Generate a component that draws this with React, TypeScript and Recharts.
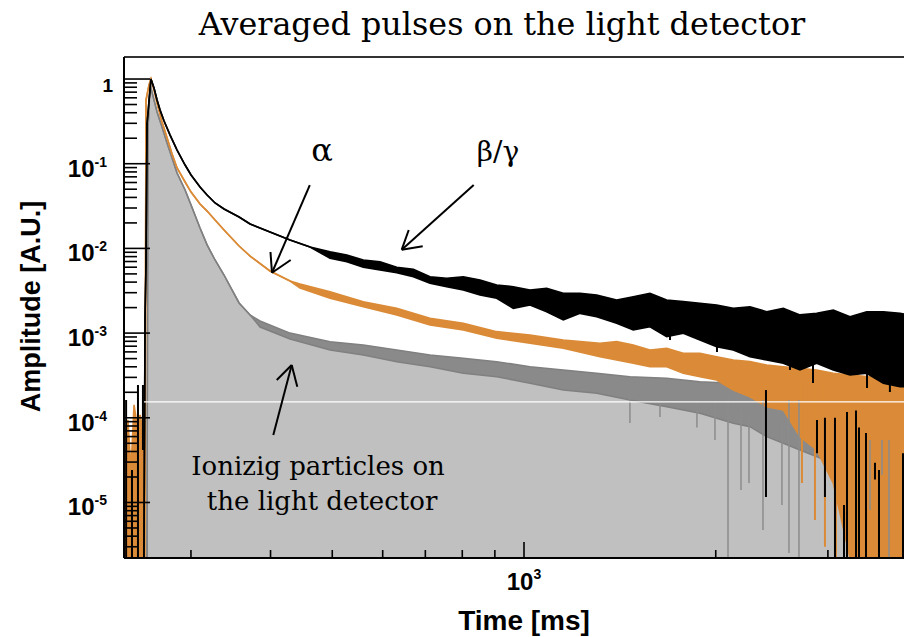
import React from "react";
import {
  ComposedChart,
  Area,
  Line,
  XAxis,
  YAxis,
  ReferenceLine,
  ReferenceDot,
} from "recharts";

const X_MIN = 235.5;
const X_MAX = 3950;
const Y_MIN = 2.21e-6;
const Y_MAX = 1.82;
const FLOOR = Y_MIN;

// beta/gamma pulse (black): upper and lower edge of the noisy trace
const blackTime = [253.1, 254.1, 255.0, 255.9, 259.6, 262.5, 265.4, 268.3, 272.2, 278.2, 285.3, 293.7, 300.1, 310.0, 318.0, 327.3, 338.1, 357.0, 371.5, 399.2, 429.2, 461.4, 496.0, 527.0, 559.4, 594.2, 631.2, 670.3, 711.9, 756.1, 803.0, 852.9, 906.1, 962.0, 1021.9, 1085.4, 1152.7, 1224.5, 1300.5, 1398.0, 1484.4, 1576.8, 1674.9, 1778.5, 1889.0, 2006.5, 2131.0, 2263.5, 2404.4, 2553.1, 2711.9, 2880.7, 3059.1, 3249.6, 3451.5, 3665.6, 3893.5, 3950];
const blackHigh = [FLOOR, 0.0015, 0.0067, 0.29, 1.0, 0.783, 0.565, 0.431, 0.319, 0.218, 0.145, 0.0965, 0.0736, 0.0531, 0.0427, 0.0344, 0.0292, 0.0235, 0.0194, 0.0156, 0.0126, 0.0104, 0.00914, 0.00836, 0.0073, 0.00697, 0.00598, 0.00567, 0.00463, 0.00444, 0.00463, 0.00424, 0.0037, 0.00353, 0.00323, 0.00338, 0.00295, 0.00295, 0.00282, 0.00246, 0.00269, 0.00295, 0.00246, 0.00235, 0.00225, 0.00215, 0.00196, 0.00205, 0.00179, 0.00196, 0.00164, 0.00171, 0.00187, 0.00156, 0.00179, 0.00179, 0.00171, 0.00168];
const blackLow = [FLOOR, 0.0015, 0.0067, 0.29, 1.0, 0.783, 0.565, 0.431, 0.319, 0.218, 0.145, 0.0965, 0.0736, 0.0531, 0.0427, 0.0344, 0.0292, 0.0235, 0.0194, 0.0156, 0.0126, 0.0104, 0.00764, 0.00697, 0.00598, 0.00556, 0.00516, 0.00463, 0.00387, 0.00353, 0.00323, 0.00282, 0.00258, 0.00196, 0.00215, 0.00179, 0.00143, 0.00171, 0.00156, 0.00131, 0.00109, 0.00119, 0.000907, 0.000995, 0.000829, 0.000691, 0.000632, 0.000526, 0.000481, 0.00044, 0.000367, 0.00044, 0.000367, 0.00032, 0.000335, 0.000256, 0.000233, 0.000233];

// alpha pulse (orange)
const orangeTime = [235.5, 238.9, 241.5, 244.2, 246.9, 249.6, 252.2, 254.1, 255.0, 257.8, 259.6, 262.5, 265.4, 270.2, 275.2, 280.2, 285.3, 293.7, 300.1, 310.0, 318.0, 327.3, 338.1, 357.0, 371.5, 399.2, 429.2, 445.0, 496.0, 559.4, 631.2, 711.9, 803.0, 906.1, 1021.9, 1152.7, 1316.0, 1398.0, 1484.4, 1576.8, 1674.9, 1778.5, 1889.0, 2006.5, 2131.0, 2263.5, 2404.4, 2553.1, 2711.9, 2880.7, 3059.1, 3249.6, 3451.5, 3665.6, 3893.5, 3950];
const orangeHigh = [5.47e-5, 9.42e-5, 2.42e-5, 1.42e-4, 8.2e-5, 1.08e-4, 7.18e-5, 5.47e-5, 0.565, 0.85, 1.0, 0.742, 0.521, 0.311, 0.201, 0.13, 0.089, 0.0608, 0.0463, 0.0334, 0.0276, 0.0216, 0.0165, 0.01067, 0.00813, 0.00541, 0.00412, 0.0038, 0.00308, 0.00235, 0.00196, 0.0015, 0.00131, 0.00104, 0.00095, 0.000829, 0.000758, 0.000792, 0.000724, 0.000632, 0.000661, 0.000577, 0.000577, 0.000526, 0.000481, 0.00046, 0.00042, 0.000401, 0.000384, 0.000367, 0.000335, 0.00032, 0.000306, 0.000306, 0.000293, 0.000293];
const orangeLow = [FLOOR, FLOOR, FLOOR, FLOOR, FLOOR, FLOOR, FLOOR, FLOOR, 0.565, 0.85, 1.0, 0.742, 0.521, 0.311, 0.201, 0.13, 0.089, 0.0608, 0.0463, 0.0334, 0.0276, 0.0216, 0.0165, 0.01067, 0.00813, 0.00541, 0.00412, 0.00341, 0.00258, 0.00205, 0.00164, 0.00125, 0.00109, 0.000868, 0.000758, 0.000661, 0.000526, 0.000481, 0.00044, 0.000401, 0.000401, 0.000335, 0.000306, 0.000279, 0.000213, 0.000177, 0.000135, 0.000124, 5.98e-5, 4.17e-5, 1.69e-5, FLOOR, FLOOR, FLOOR, FLOOR, FLOOR];

// ionizing particles on the light detector (grey, filled)
const grayTime = [255.9, 256.8, 258.8, 260.6, 265.4, 270.2, 275.2, 280.2, 285.3, 293.7, 300.1, 310.0, 318.0, 327.3, 338.1, 348.0, 357.0, 371.5, 385.1, 429.2, 496.0, 559.4, 631.2, 711.9, 803.0, 906.1, 1021.9, 1152.7, 1300.5, 1466.6, 1674.9, 1889.0, 2131.0, 2263.5, 2404.4, 2711.9, 3059.1, 3451.5, 3893.5, 3950];
const grayHigh = [FLOOR, 0.25, 0.873, 0.702, 0.408, 0.271, 0.1755, 0.1168, 0.0777, 0.0489, 0.0325, 0.0174, 0.011, 0.0073, 0.00485, 0.00323, 0.00227, 0.00164, 0.00139, 0.001, 0.000792, 0.000724, 0.000632, 0.000551, 0.000504, 0.00046, 0.000401, 0.000367, 0.000335, 0.000306, 0.000293, 0.000267, 0.000256, 0.000213, 0.000195, 0.000162, 0.000124, 5.98e-5, 3.47e-5, 3.4e-5];
const grayLow = [FLOOR, 0.25, 0.873, 0.702, 0.408, 0.271, 0.1755, 0.1168, 0.0777, 0.0489, 0.0325, 0.0174, 0.011, 0.0073, 0.00485, 0.00323, 0.00227, 0.00164, 0.00118, 0.000852, 0.000632, 0.000551, 0.00046, 0.000401, 0.000335, 0.000306, 0.000256, 0.000213, 0.000195, 0.000162, 0.000135, 0.000113, 8.61e-5, 7.85e-5, 5.98e-5, 4.17e-5, 2.9e-5, 2.02e-5, 1.69e-5, 1.6e-5];

// single noisy bins that drop far below the trace
const blackSpikeTime = [237.3, 242.4, 247.7, 252.2, 1695.3, 2009.0, 2238.6, 2459.6, 2615.6, 2842.7, 3455.6, 3753.7, 2398.3, 2884.0, 2968.3, 3077.7, 3179.9, 3214.6, 3320.7, 3356.8, 3442.9, 3556.6, 3608.6, 3935.9];
const blackSpikeTop = [0.000162, 2.42e-5, 0.000244, 0.000244, 0.0015, 0.0013, 0.0012, 0.0011, 0.001, 0.0009, 0.0008, 0.0008, 0.000213, 9.42e-5, 0.0001, 0.0001, 9.34e-6, 0.000117, 0.000122, 7.7e-5, 6.6e-5, 2.95e-5, 2.42e-5, 3.8e-5];
const blackSpikeBottom = [FLOOR, FLOOR, FLOOR, 4.17e-5, 0.000829, 0.000598, 0.000537, 0.000481, 0.000367, 0.000258, 0.000225, 0.000202, 1.16e-5, 3.8e-5, 1.16e-5, FLOOR, FLOOR, FLOOR, FLOOR, FLOOR, FLOOR, 1.87e-5, FLOOR, FLOOR];

const graySpikeTime = [1466.6, 1634.9, 1868.6, 1994.5, 2090.6, 2191.2, 2255.3, 2372.5, 2540.8, 2606.0, 2701.9, 3493.2, 3648.0, 3741.5];
const graySpikeTop = [0.000186, 0.00016, 0.000162, 0.000162, 0.000176, 0.000122, 0.000122, 0.000162, 9.42e-5, 0.000162, 0.000162, 5.47e-5, 5.47e-5, 5.47e-5];
const graySpikeBottom = [8.7e-5, 0.000102, 7.7e-5, 5.47e-5, FLOOR, 1.4e-5, 1.7e-5, 4.74e-6, 9.34e-6, 2.53e-6, FLOOR, 8.16e-6, 2.11e-5, FLOOR];

const orangeSpikeTime = [2731.6, 2863.0, 2968.3, 3089.0];
const orangeSpikeTop = [0.0003, 0.0003, 0.0003, 0.0003];
const orangeSpikeBottom = [1.7e-5, 6.2e-6, 3.0e-6, FLOOR];

// axis ticks
const yDecades = [-6, -5, -4, -3, -2, -1, 0];
const minorSteps = [1, 2, 3, 4, 5, 6, 7, 8, 9];
const xTickValues = [300, 400, 500, 600, 700, 800, 900, 1000, 2000, 3000];

// annotations (data coordinates): tail, tip, two head wings
const alphaArrow = [[461.0, 0.056], [402.1, 0.00516], [399.9, 0.00907], [430.2, 0.0073]];
const betaArrow = [[833.7, 0.056], [642.7, 0.00966], [659.2, 0.0165], [693.4, 0.01059]];
const ionArrow = [[404.0, 6.26e-5], [431.8, 0.00042], [409.1, 0.000279], [440.6, 0.000233]];
const noteText = ["α", "β/γ", "Ionizig particles on", "the light detector"];
const noteTime = [481.9, 910.4, 475.0, 481.9];
const noteValue = [0.1076, 0.1076, 2.11e-5, 8.16e-6];
const noteSize = [32, 28, 26, 26];

const GLITCH_LEVEL = 1.54e-4;

const SANS = "'Liberation Sans', Arial, Helvetica, sans-serif";
const SERIF = "'DejaVu Serif', 'Liberation Serif', serif";
const ORANGE = "#db8b37";

const yTicks = yDecades
  .flatMap((d) => minorSteps.map((m) => m * Math.pow(10, d)))
  .filter((v) => v >= Y_MIN && v <= Y_MAX);

const band = (time: number[], high: number[], low: number[]) =>
  time.map((t, i) => ({ t, high: high[i], range: [low[i], high[i]] }));

const spikes = (time: number[], top: number[], bottom: number[]) =>
  time.flatMap((t, i) => [
    { t, v: top[i] },
    { t, v: bottom[i] },
    { t, v: null },
  ]);

const blackData = band(blackTime, blackHigh, blackLow);
const orangeData = band(orangeTime, orangeHigh, orangeLow);
const grayData = band(grayTime, grayHigh, grayLow);

const isDecade = (v: number) => {
  const e = Math.log10(v);
  return Math.abs(e - Math.round(e)) < 1e-6;
};

const YTick = (props: any) => {
  const { x, y, payload } = props;
  const v = payload.value as number;
  const major = isDecade(v);
  const exp = Math.round(Math.log10(v));
  return (
    <g>
      <line x1={x} x2={x + (major ? 26 : 13)} y1={y} y2={y} stroke="#000" strokeWidth={1.6} />
      {major && exp === 0 && (
        <text x={x - 11} y={y + 13} textAnchor="end" fontFamily={SANS} fontWeight="bold" fontSize={19} fill="#000">
          1
        </text>
      )}
      {major && exp !== 0 && (
        <text x={x - 17} y={y + 13} textAnchor="end" fontFamily={SANS} fontWeight="bold" fontSize={24} fill="#000">
          10
          <tspan dy={-10} fontSize={14}>
            {exp}
          </tspan>
        </text>
      )}
    </g>
  );
};

const XTick = (props: any) => {
  const { x, y, payload } = props;
  const v = payload.value as number;
  const major = isDecade(v);
  const exp = Math.round(Math.log10(v));
  return (
    <g>
      <line x1={x} x2={x} y1={y} y2={y - (major ? 16 : 8)} stroke="#000" strokeWidth={1.6} />
      {major && (
        <text x={x} y={y + 32} textAnchor="middle" fontFamily={SANS} fontWeight="bold" fontSize={24} fill="#000">
          10
          <tspan dy={-11} fontSize={14}>
            {exp}
          </tspan>
        </text>
      )}
    </g>
  );
};

const noteLabel = (text: string, size: number) => (props: any) => {
  const vb = props.viewBox || {};
  const cx = (vb.x ?? 0) + (vb.width ?? 0) / 2;
  const cy = (vb.y ?? 0) + (vb.height ?? 0) / 2;
  return (
    <text x={cx} y={cy} textAnchor="middle" fontFamily={SERIF} fontSize={size} fill="#000">
      {text}
    </text>
  );
};

const arrowLines = (arrow: number[][], key: string) => {
  const [tail, tip, w1, w2] = arrow;
  return [tail, w1, w2].map((p, i) => (
    <ReferenceLine
      key={`${key}-${i}`}
      segment={[
        { x: p[0], y: p[1] },
        { x: tip[0], y: tip[1] },
      ]}
      stroke="#000"
      strokeWidth={2}
      ifOverflow="visible"
    />
  ));
};

export default function App() {
  return (
    <div
      style={{
        position: "absolute",
        left: 0,
        top: 0,
        width: 904,
        height: 637,
        overflow: "hidden",
        background: "#fff",
      }}
    >
      <svg width={904} height={50} style={{ position: "absolute", left: 0, top: 0 }}>
        <text x={502} y={35} textAnchor="middle" fontFamily={SERIF} fontSize={31.8} fill="#000">
          Averaged pulses on the light detector
        </text>
      </svg>
      <div style={{ position: "absolute", left: 0, top: 0 }}>
        <ComposedChart width={904} height={637} margin={{ top: 57, right: 0, bottom: 0, left: 0 }}>
          <Area
            data={grayData}
            dataKey="high"
            type="linear"
            baseValue={FLOOR}
            fill="#c0c0c0"
            fillOpacity={1}
            stroke="none"
            isAnimationActive={false}
            dot={false}
            activeDot={false}
          />
          <Area
            data={grayData}
            dataKey="range"
            type="linear"
            fill="#8a8a8a"
            fillOpacity={1}
            stroke="#808080"
            strokeWidth={1.5}
            isAnimationActive={false}
            dot={false}
            activeDot={false}
          />
          <Area
            data={orangeData}
            dataKey="range"
            type="linear"
            fill={ORANGE}
            fillOpacity={1}
            stroke={ORANGE}
            strokeWidth={1.6}
            isAnimationActive={false}
            dot={false}
            activeDot={false}
          />
          <Line
            data={spikes(orangeSpikeTime, orangeSpikeTop, orangeSpikeBottom)}
            dataKey="v"
            type="linear"
            stroke={ORANGE}
            strokeWidth={2}
            dot={false}
            activeDot={false}
            connectNulls={false}
            isAnimationActive={false}
          />
          <Line
            data={spikes(graySpikeTime, graySpikeTop, graySpikeBottom)}
            dataKey="v"
            type="linear"
            stroke="#8c8c8c"
            strokeWidth={1.5}
            dot={false}
            activeDot={false}
            connectNulls={false}
            isAnimationActive={false}
          />
          <ReferenceLine y={GLITCH_LEVEL} stroke="#ffffff" strokeWidth={1.2} />
          <Area
            data={blackData}
            dataKey="range"
            type="linear"
            fill="#000"
            fillOpacity={1}
            stroke="#000"
            strokeWidth={1.6}
            isAnimationActive={false}
            dot={false}
            activeDot={false}
          />
          <Line
            data={spikes(blackSpikeTime, blackSpikeTop, blackSpikeBottom)}
            dataKey="v"
            type="linear"
            stroke="#000"
            strokeWidth={2}
            dot={false}
            activeDot={false}
            connectNulls={false}
            isAnimationActive={false}
          />
          {arrowLines(alphaArrow, "a")}
          {arrowLines(betaArrow, "b")}
          {arrowLines(ionArrow, "i")}
          {noteText.map((txt, i) => (
            <ReferenceDot
              key={txt}
              x={noteTime[i]}
              y={noteValue[i]}
              r={0}
              fill="none"
              stroke="none"
              ifOverflow="visible"
              label={{ content: noteLabel(txt, noteSize[i]) } as any}
            />
          ))}
          <ReferenceLine y={Y_MAX} stroke="#333" strokeWidth={2} ifOverflow="visible" />
          <XAxis
            dataKey="t"
            type="number"
            scale="log"
            domain={[X_MIN, X_MAX]}
            allowDataOverflow
            ticks={xTickValues}
            interval={0}
            tickSize={0}
            tickMargin={0}
            tick={<XTick />}
            tickLine={false}
            axisLine={{ stroke: "#000", strokeWidth: 2 }}
            height={79}
            label={{
              content: (p: any) => {
                const vb = p.viewBox || {};
                return (
                  <text
                    x={vb.x + vb.width / 2 + 10}
                    y={vb.y + 72}
                    textAnchor="middle"
                    fontFamily={SANS}
                    fontWeight="bold"
                    fontSize={28}
                    fill="#000"
                  >
                    Time [ms]
                  </text>
                );
              },
            } as any}
          />
          <YAxis
            type="number"
            scale="log"
            domain={[Y_MIN, Y_MAX]}
            allowDataOverflow
            ticks={yTicks}
            interval={0}
            tickSize={0}
            tickMargin={0}
            tick={<YTick />}
            tickLine={false}
            axisLine={{ stroke: "#000", strokeWidth: 2 }}
            width={124}
            label={{
              content: (p: any) => {
                const vb = p.viewBox || {};
                const cy = vb.y + vb.height / 2 - 1;
                return (
                  <text
                    x={40}
                    y={cy}
                    transform={`rotate(-90, 40, ${cy})`}
                    textAnchor="middle"
                    fontFamily={SANS}
                    fontWeight="bold"
                    fontSize={27}
                    fill="#000"
                  >
                    Amplitude [A.U.]
                  </text>
                );
              },
            } as any}
          />
        </ComposedChart>
      </div>
    </div>
  );
}
